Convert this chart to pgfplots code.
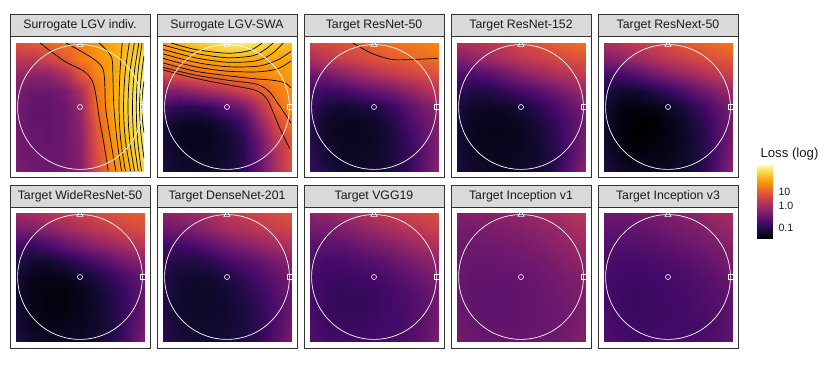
\documentclass[border=0pt]{standalone}
\usepackage{fontspec}
\setmainfont{Liberation Sans}
\usepackage{pgfplots}
\pgfplotsset{compat=1.18}

\definecolor{stripfill}{RGB}{217,217,217}
\definecolor{frameline}{RGB}{51,51,51}
\definecolor{labeltext}{RGB}{26,26,26}

\pgfplotsset{
  colormap={inferno}{rgb255=(0,0,4) rgb255=(22,11,57) rgb255=(66,10,104)
    rgb255=(106,23,110) rgb255=(147,38,103) rgb255=(188,55,84)
    rgb255=(221,81,58) rgb255=(243,120,25) rgb255=(252,165,10)
    rgb255=(246,215,70) rgb255=(252,255,164)},
  heat/.style={anchor=south west, width=128pt, height=128pt, scale only axis,
    xmin=-1, xmax=1, ymin=-1, ymax=1, hide axis, colormap name=inferno,
    point meta min=0, point meta max=1, clip mode=individual},
  field/.style={surf, shader=interp, mesh/cols=9, point meta=explicit},
  level/.style={black, line width=0.7pt, smooth, no markers},
}

% unit circle and the three reference points
\newcommand{\refmarks}{%
  \draw[white, line width=0.7pt] (axis cs:0,0) circle[radius=0.975];
  \addplot[only marks, white, mark=o, mark size=2.5pt, mark options={line width=0.6pt}] coordinates {(0,0)};
  \addplot[only marks, white, mark=triangle, mark size=3.6pt, mark options={line width=0.6pt}] coordinates {(0,0.975)};
  \addplot[only marks, white, mark=square, mark size=2.4pt, mark options={line width=0.6pt}] coordinates {(0.975,0)};
}
% strip + frame of one facet: x of left edge, y of strip top, title
\newcommand{\panel}[3]{%
  \draw[frameline, line width=0.8pt, fill=stripfill] (#1,#2) rectangle ++(140,-22);
  \draw[frameline, line width=0.8pt] (#1,#2-22) rectangle ++(140,-141);
  \node[font=\fontsize{12.3}{14}\selectfont, text=labeltext] at (#1+70,#2-11) {#3};
}

\begin{document}
\begin{tikzpicture}[x=1pt,y=1pt]
\useasboundingbox (0,0) rectangle (830,365);

\panel{10}{351}{Surrogate LGV indiv.}
\panel{157}{351}{Surrogate LGV-SWA}
\panel{304}{351}{Target ResNet-50}
\panel{451}{351}{Target ResNet-152}
\panel{598}{351}{Target ResNext-50}
\panel{10}{180}{Target WideResNet-50}
\panel{157}{180}{Target DenseNet-201}
\panel{304}{180}{Target VGG19}
\panel{451}{180}{Target Inception v1}
\panel{598}{180}{Target Inception v3}

% ---- Surrogate LGV indiv.
\begin{axis}[heat, at={(16pt,194pt)}]
\addplot[field] coordinates {
(-1,1)[.60] (-.75,1)[.62] (-.5,1)[.66] (-.25,1)[.70] (0,1)[.72] (.25,1)[.76] (.5,1)[.80] (.75,1)[.85] (1,1)[.88]
(-1,.75)[.50] (-.75,.75)[.50] (-.5,.75)[.55] (-.25,.75)[.62] (0,.75)[.70] (.25,.75)[.75] (.5,.75)[.80] (.75,.75)[.86] (1,.75)[.92]
(-1,.5)[.40] (-.75,.5)[.38] (-.5,.5)[.38] (-.25,.5)[.45] (0,.5)[.60] (.25,.5)[.72] (.5,.5)[.80] (.75,.5)[.88] (1,.5)[.95]
(-1,.25)[.33] (-.75,.25)[.30] (-.5,.25)[.30] (-.25,.25)[.33] (0,.25)[.45] (.25,.25)[.68] (.5,.25)[.80] (.75,.25)[.90] (1,.25)[.98]
(-1,0)[.32] (-.75,0)[.28] (-.5,0)[.28] (-.25,0)[.30] (0,0)[.40] (.25,0)[.66] (.5,0)[.80] (.75,0)[.90] (1,0)[1.0]
(-1,-.25)[.32] (-.75,-.25)[.28] (-.5,-.25)[.28] (-.25,-.25)[.30] (0,-.25)[.38] (.25,-.25)[.62] (.5,-.25)[.78] (.75,-.25)[.88] (1,-.25)[.97]
(-1,-.5)[.32] (-.75,-.5)[.30] (-.5,-.5)[.28] (-.25,-.5)[.30] (0,-.5)[.37] (.25,-.5)[.60] (.5,-.5)[.76] (.75,-.5)[.86] (1,-.5)[.94]
(-1,-.75)[.33] (-.75,-.75)[.30] (-.5,-.75)[.30] (-.25,-.75)[.30] (0,-.75)[.36] (.25,-.75)[.58] (.5,-.75)[.74] (.75,-.75)[.84] (1,-.75)[.92]
(-1,-1)[.34] (-.75,-1)[.32] (-.5,-1)[.30] (-.25,-1)[.32] (0,-1)[.36] (.25,-1)[.56] (.5,-1)[.72] (.75,-1)[.82] (1,-1)[.90]
};
\addplot[level] coordinates {(-.625,1) (-.25,.72) (.06,.56) (.19,.41) (.245,.2) (.3,-.17) (.375,-.58) (.44,-1)};
\addplot[level] coordinates {(-.22,1) (.01,.875) (.22,.745) (.35,.615) (.385,.41) (.40,-.01) (.48,-.53) (.56,-1)};
\addplot[level] coordinates {(.3,1) (.45,.85) (.505,.72) (.516,.41) (.53,-.01) (.58,-.53) (.65,-1)};
\addplot[level] coordinates {(.66,1) (.628,.6) (.615,.3) (.61,0) (.619,-.3) (.646,-.6) (.71,-1)};
\addplot[level] coordinates {(.77,1) (.712,.6) (.689,.3) (.68,0) (.69,-.3) (.72,-.6) (.79,-1)};
\addplot[level] coordinates {(.85,1) (.786,.6) (.759,.3) (.75,0) (.759,-.3) (.786,-.6) (.85,-1)};
\addplot[level] coordinates {(.92,1) (.856,.6) (.829,.3) (.82,0) (.828,-.3) (.852,-.6) (.91,-1)};
\addplot[level] coordinates {(.97,1) (.912,.6) (.888,.3) (.88,0) (.887,-.3) (.909,-.6) (.96,-1)};
\addplot[level] coordinates {(1,.8) (.96,.5) (.94,.25) (.93,0) (.94,-.25) (.96,-.5) (1,-.8)};
\addplot[level] coordinates {(1,.4) (.975,.2) (.97,0) (.975,-.2) (1,-.4)};
\refmarks
\end{axis}

% ---- Surrogate LGV-SWA
\begin{axis}[heat, at={(163pt,194pt)}]
\addplot[field] coordinates {
(-1,1)[.78] (-.75,1)[.82] (-.5,1)[.86] (-.25,1)[.90] (0,1)[.94] (.25,1)[.95] (.5,1)[.92] (.75,1)[.88] (1,1)[.85]
(-1,.75)[.72] (-.75,.75)[.75] (-.5,.75)[.78] (-.25,.75)[.80] (0,.75)[.82] (.25,.75)[.82] (.5,.75)[.80] (.75,.75)[.80] (1,.75)[.80]
(-1,.5)[.55] (-.75,.5)[.60] (-.5,.5)[.65] (-.25,.5)[.68] (0,.5)[.70] (.25,.5)[.72] (.5,.5)[.74] (.75,.5)[.76] (1,.5)[.78]
(-1,.25)[.35] (-.75,.25)[.35] (-.5,.25)[.40] (-.25,.25)[.45] (0,.25)[.50] (.25,.25)[.55] (.5,.25)[.62] (.75,.25)[.70] (1,.25)[.76]
(-1,0)[.20] (-.75,0)[.15] (-.5,0)[.15] (-.25,0)[.18] (0,0)[.25] (.25,0)[.33] (.5,0)[.48] (.75,0)[.65] (1,0)[.74]
(-1,-.25)[.12] (-.75,-.25)[.06] (-.5,-.25)[.05] (-.25,-.25)[.07] (0,-.25)[.12] (.25,-.25)[.20] (.5,-.25)[.38] (.75,-.25)[.56] (1,-.25)[.68]
(-1,-.5)[.10] (-.75,-.5)[.05] (-.5,-.5)[.04] (-.25,-.5)[.05] (0,-.5)[.08] (.25,-.5)[.15] (.5,-.5)[.30] (.75,-.5)[.50] (1,-.5)[.62]
(-1,-.75)[.10] (-.75,-.75)[.06] (-.5,-.75)[.05] (-.25,-.75)[.06] (0,-.75)[.08] (.25,-.75)[.14] (.5,-.75)[.28] (.75,-.75)[.45] (1,-.75)[.60]
(-1,-1)[.12] (-.75,-1)[.08] (-.5,-1)[.07] (-.25,-1)[.08] (0,-1)[.10] (.25,-1)[.15] (.5,-1)[.28] (.75,-1)[.45] (1,-1)[.58]
};
\addplot[level] coordinates {(-.87,1) (-.5,.9) (0,.84) (.35,.88) (.55,1)};
\addplot[level] coordinates {(-1,.97) (-.5,.84) (0,.77) (.4,.8) (.6,.9) (.72,1)};
\addplot[level] coordinates {(-1,.9) (-.5,.77) (0,.7) (.45,.72) (.7,.83) (.88,1)};
\addplot[level] coordinates {(-1,.83) (-.5,.7) (0,.63) (.5,.64) (.8,.74) (1,.87)};
\addplot[level] coordinates {(-1,.76) (-.5,.63) (0,.56) (.5,.55) (.8,.6) (1,.72)};
\addplot[level] coordinates {(-1,.69) (-.5,.56) (0,.49) (.45,.44) (.7,.42) (.9,.38) (1,.3)};
\addplot[level] coordinates {(-1,.62) (-.5,.5) (0,.42) (.45,.36) (.65,.25) (.8,.05) (1,-.25)};
\addplot[level] coordinates {(-1,.58) (-.5,.45) (0,.35) (.45,.26) (.62,.13) (.72,-.08) (.82,-.32) (.98,-.65)};
\refmarks
\end{axis}

% ---- Target ResNet-50
\begin{axis}[heat, at={(310pt,194pt)}]
\addplot[field] coordinates {
(-1,1)[.55] (-.75,1)[.58] (-.5,1)[.60] (-.25,1)[.63] (0,1)[.66] (.25,1)[.68] (.5,1)[.70] (.75,1)[.71] (1,1)[.73]
(-1,.75)[.45] (-.75,.75)[.50] (-.5,.75)[.53] (-.25,.75)[.56] (0,.75)[.60] (.25,.75)[.62] (.5,.75)[.64] (.75,.75)[.66] (1,.75)[.68]
(-1,.5)[.30] (-.75,.5)[.32] (-.5,.5)[.36] (-.25,.5)[.42] (0,.5)[.46] (.25,.5)[.50] (.5,.5)[.54] (.75,.5)[.57] (1,.5)[.60]
(-1,.25)[.20] (-.75,.25)[.18] (-.5,.25)[.20] (-.25,.25)[.24] (0,.25)[.28] (.25,.25)[.32] (.5,.25)[.38] (.75,.25)[.44] (1,.25)[.50]
(-1,0)[.18] (-.75,0)[.10] (-.5,0)[.08] (-.25,0)[.10] (0,0)[.12] (.25,0)[.17] (.5,0)[.24] (.75,0)[.32] (1,0)[.40]
(-1,-.25)[.15] (-.75,-.25)[.07] (-.5,-.25)[.05] (-.25,-.25)[.05] (0,-.25)[.07] (.25,-.25)[.12] (.5,-.25)[.20] (.75,-.25)[.28] (1,-.25)[.36]
(-1,-.5)[.14] (-.75,-.5)[.07] (-.5,-.5)[.05] (-.25,-.5)[.05] (0,-.5)[.06] (.25,-.5)[.10] (.5,-.5)[.17] (.75,-.5)[.26] (1,-.5)[.36]
(-1,-.75)[.15] (-.75,-.75)[.09] (-.5,-.75)[.06] (-.25,-.75)[.06] (0,-.75)[.07] (.25,-.75)[.10] (.5,-.75)[.16] (.75,-.75)[.25] (1,-.75)[.36]
(-1,-1)[.18] (-.75,-1)[.12] (-.5,-1)[.08] (-.25,-1)[.08] (0,-1)[.09] (.25,-1)[.11] (.5,-1)[.16] (.75,-1)[.26] (1,-1)[.38]
};
\addplot[level] coordinates {(-.33,1) (-.03,.836) (.28,.742) (.59,.742) (1,.76)};
\refmarks
\end{axis}

% ---- Target ResNet-152
\begin{axis}[heat, at={(457pt,194pt)}]
\addplot[field] coordinates {
(-1,1)[.45] (-.75,1)[.48] (-.5,1)[.50] (-.25,1)[.53] (0,1)[.57] (.25,1)[.60] (.5,1)[.63] (.75,1)[.66] (1,1)[.68]
(-1,.75)[.35] (-.75,.75)[.38] (-.5,.75)[.42] (-.25,.75)[.46] (0,.75)[.50] (.25,.75)[.53] (.5,.75)[.56] (.75,.75)[.58] (1,.75)[.60]
(-1,.5)[.22] (-.75,.5)[.22] (-.5,.5)[.25] (-.25,.5)[.30] (0,.5)[.36] (.25,.5)[.40] (.5,.5)[.45] (.75,.5)[.48] (1,.5)[.52]
(-1,.25)[.15] (-.75,.25)[.12] (-.5,.25)[.13] (-.25,.25)[.16] (0,.25)[.20] (.25,.25)[.25] (.5,.25)[.30] (.75,.25)[.36] (1,.25)[.42]
(-1,0)[.12] (-.75,0)[.07] (-.5,0)[.06] (-.25,0)[.07] (0,0)[.10] (.25,0)[.14] (.5,0)[.20] (.75,0)[.27] (1,0)[.34]
(-1,-.25)[.10] (-.75,-.25)[.05] (-.5,-.25)[.04] (-.25,-.25)[.04] (0,-.25)[.06] (.25,-.25)[.10] (.5,-.25)[.16] (.75,-.25)[.24] (1,-.25)[.32]
(-1,-.5)[.10] (-.75,-.5)[.05] (-.5,-.5)[.04] (-.25,-.5)[.04] (0,-.5)[.05] (.25,-.5)[.08] (.5,-.5)[.14] (.75,-.5)[.23] (1,-.5)[.33]
(-1,-.75)[.10] (-.75,-.75)[.06] (-.5,-.75)[.05] (-.25,-.75)[.05] (0,-.75)[.06] (.25,-.75)[.08] (.5,-.75)[.13] (.75,-.75)[.23] (1,-.75)[.35]
(-1,-1)[.12] (-.75,-1)[.08] (-.5,-1)[.06] (-.25,-1)[.06] (0,-1)[.07] (.25,-1)[.09] (.5,-1)[.14] (.75,-1)[.25] (1,-1)[.38]
};
\refmarks
\end{axis}

% ---- Target ResNext-50
\begin{axis}[heat, at={(604pt,194pt)}]
\addplot[field] coordinates {
(-1,1)[.45] (-.75,1)[.48] (-.5,1)[.52] (-.25,1)[.55] (0,1)[.58] (.25,1)[.62] (.5,1)[.65] (.75,1)[.67] (1,1)[.69]
(-1,.75)[.35] (-.75,.75)[.38] (-.5,.75)[.42] (-.25,.75)[.46] (0,.75)[.50] (.25,.75)[.54] (.5,.75)[.57] (.75,.75)[.60] (1,.75)[.62]
(-1,.5)[.20] (-.75,.5)[.20] (-.5,.5)[.24] (-.25,.5)[.30] (0,.5)[.36] (.25,.5)[.40] (.5,.5)[.45] (.75,.5)[.50] (1,.5)[.54]
(-1,.25)[.12] (-.75,.25)[.08] (-.5,.25)[.08] (-.25,.25)[.12] (0,.25)[.17] (.25,.25)[.23] (.5,.25)[.30] (.75,.25)[.36] (1,.25)[.42]
(-1,0)[.10] (-.75,0)[.03] (-.5,0)[.02] (-.25,0)[.03] (0,0)[.06] (.25,0)[.11] (.5,0)[.18] (.75,0)[.26] (1,0)[.34]
(-1,-.25)[.08] (-.75,-.25)[.02] (-.5,-.25)[.00] (-.25,-.25)[.00] (0,-.25)[.03] (.25,-.25)[.07] (.5,-.25)[.14] (.75,-.25)[.23] (1,-.25)[.32]
(-1,-.5)[.08] (-.75,-.5)[.02] (-.5,-.5)[.00] (-.25,-.5)[.01] (0,-.5)[.03] (.25,-.5)[.06] (.5,-.5)[.12] (.75,-.5)[.22] (1,-.5)[.33]
(-1,-.75)[.09] (-.75,-.75)[.04] (-.5,-.75)[.02] (-.25,-.75)[.03] (0,-.75)[.04] (.25,-.75)[.07] (.5,-.75)[.12] (.75,-.75)[.22] (1,-.75)[.35]
(-1,-1)[.12] (-.75,-1)[.07] (-.5,-1)[.05] (-.25,-1)[.05] (0,-1)[.06] (.25,-1)[.08] (.5,-1)[.13] (.75,-1)[.24] (1,-1)[.38]
};
\refmarks
\end{axis}

% ---- Target WideResNet-50
\begin{axis}[heat, at={(16pt,24pt)}]
\addplot[field] coordinates {
(-1,1)[.42] (-.75,1)[.45] (-.5,1)[.48] (-.25,1)[.51] (0,1)[.54] (.25,1)[.57] (.5,1)[.60] (.75,1)[.62] (1,1)[.64]
(-1,.75)[.33] (-.75,.75)[.35] (-.5,.75)[.38] (-.25,.75)[.42] (0,.75)[.46] (.25,.75)[.50] (.5,.75)[.53] (.75,.75)[.56] (1,.75)[.58]
(-1,.5)[.20] (-.75,.5)[.18] (-.5,.5)[.22] (-.25,.5)[.28] (0,.5)[.33] (.25,.5)[.38] (.5,.5)[.42] (.75,.5)[.46] (1,.5)[.50]
(-1,.25)[.13] (-.75,.25)[.08] (-.5,.25)[.08] (-.25,.25)[.12] (0,.25)[.17] (.25,.25)[.22] (.5,.25)[.28] (.75,.25)[.33] (1,.25)[.38]
(-1,0)[.10] (-.75,0)[.04] (-.5,0)[.03] (-.25,0)[.04] (0,0)[.07] (.25,0)[.11] (.5,0)[.17] (.75,0)[.23] (1,0)[.30]
(-1,-.25)[.09] (-.75,-.25)[.03] (-.5,-.25)[.02] (-.25,-.25)[.02] (0,-.25)[.04] (.25,-.25)[.08] (.5,-.25)[.13] (.75,-.25)[.20] (1,-.25)[.28]
(-1,-.5)[.09] (-.75,-.5)[.04] (-.5,-.5)[.02] (-.25,-.5)[.02] (0,-.5)[.04] (.25,-.5)[.07] (.5,-.5)[.12] (.75,-.5)[.20] (1,-.5)[.30]
(-1,-.75)[.10] (-.75,-.75)[.05] (-.5,-.75)[.04] (-.25,-.75)[.04] (0,-.75)[.05] (.25,-.75)[.07] (.5,-.75)[.12] (.75,-.75)[.21] (1,-.75)[.32]
(-1,-1)[.13] (-.75,-1)[.08] (-.5,-1)[.06] (-.25,-1)[.06] (0,-1)[.07] (.25,-1)[.09] (.5,-1)[.13] (.75,-1)[.23] (1,-1)[.35]
};
\refmarks
\end{axis}

% ---- Target DenseNet-201
\begin{axis}[heat, at={(163pt,24pt)}]
\addplot[field] coordinates {
(-1,1)[.38] (-.75,1)[.40] (-.5,1)[.43] (-.25,1)[.46] (0,1)[.50] (.25,1)[.53] (.5,1)[.56] (.75,1)[.58] (1,1)[.60]
(-1,.75)[.30] (-.75,.75)[.32] (-.5,.75)[.35] (-.25,.75)[.40] (0,.75)[.44] (.25,.75)[.47] (.5,.75)[.50] (.75,.75)[.53] (1,.75)[.55]
(-1,.5)[.20] (-.75,.5)[.20] (-.5,.5)[.22] (-.25,.5)[.27] (0,.5)[.32] (.25,.5)[.36] (.5,.5)[.40] (.75,.5)[.44] (1,.5)[.47]
(-1,.25)[.15] (-.75,.25)[.12] (-.5,.25)[.12] (-.25,.25)[.15] (0,.25)[.20] (.25,.25)[.24] (.5,.25)[.28] (.75,.25)[.33] (1,.25)[.38]
(-1,0)[.14] (-.75,0)[.09] (-.5,0)[.08] (-.25,0)[.09] (0,0)[.12] (.25,0)[.16] (.5,0)[.22] (.75,0)[.27] (1,0)[.32]
(-1,-.25)[.13] (-.75,-.25)[.08] (-.5,-.25)[.07] (-.25,-.25)[.07] (0,-.25)[.09] (.25,-.25)[.13] (.5,-.25)[.18] (.75,-.25)[.24] (1,-.25)[.30]
(-1,-.5)[.13] (-.75,-.5)[.08] (-.5,-.5)[.07] (-.25,-.5)[.07] (0,-.5)[.08] (.25,-.5)[.11] (.5,-.5)[.16] (.75,-.5)[.23] (1,-.5)[.30]
(-1,-.75)[.13] (-.75,-.75)[.09] (-.5,-.75)[.08] (-.25,-.75)[.08] (0,-.75)[.09] (.25,-.75)[.11] (.5,-.75)[.15] (.75,-.75)[.23] (1,-.75)[.31]
(-1,-1)[.15] (-.75,-1)[.11] (-.5,-1)[.09] (-.25,-1)[.09] (0,-1)[.10] (.25,-1)[.12] (.5,-1)[.16] (.75,-1)[.24] (1,-1)[.33]
};
\refmarks
\end{axis}

% ---- Target VGG19
\begin{axis}[heat, at={(310pt,24pt)}]
\addplot[field] coordinates {
(-1,1)[.38] (-.75,1)[.40] (-.5,1)[.43] (-.25,1)[.46] (0,1)[.49] (.25,1)[.52] (.5,1)[.55] (.75,1)[.57] (1,1)[.59]
(-1,.75)[.32] (-.75,.75)[.33] (-.5,.75)[.35] (-.25,.75)[.38] (0,.75)[.42] (.25,.75)[.45] (.5,.75)[.48] (.75,.75)[.51] (1,.75)[.54]
(-1,.5)[.26] (-.75,.5)[.26] (-.5,.5)[.27] (-.25,.5)[.30] (0,.5)[.33] (.25,.5)[.36] (.5,.5)[.40] (.75,.5)[.44] (1,.5)[.47]
(-1,.25)[.23] (-.75,.25)[.21] (-.5,.25)[.21] (-.25,.25)[.23] (0,.25)[.25] (.25,.25)[.28] (.5,.25)[.32] (.75,.25)[.36] (1,.25)[.40]
(-1,0)[.21] (-.75,0)[.19] (-.5,0)[.18] (-.25,0)[.19] (0,0)[.21] (.25,0)[.23] (.5,0)[.26] (.75,0)[.30] (1,0)[.34]
(-1,-.25)[.21] (-.75,-.25)[.18] (-.5,-.25)[.17] (-.25,-.25)[.17] (0,-.25)[.18] (.25,-.25)[.20] (.5,-.25)[.23] (.75,-.25)[.27] (1,-.25)[.32]
(-1,-.5)[.21] (-.75,-.5)[.18] (-.5,-.5)[.17] (-.25,-.5)[.17] (0,-.5)[.18] (.25,-.5)[.20] (.5,-.5)[.22] (.75,-.5)[.26] (1,-.5)[.32]
(-1,-.75)[.22] (-.75,-.75)[.19] (-.5,-.75)[.18] (-.25,-.75)[.18] (0,-.75)[.19] (.25,-.75)[.20] (.5,-.75)[.22] (.75,-.75)[.26] (1,-.75)[.33]
(-1,-1)[.24] (-.75,-1)[.21] (-.5,-1)[.20] (-.25,-1)[.20] (0,-1)[.20] (.25,-1)[.21] (.5,-1)[.23] (.75,-1)[.27] (1,-1)[.35]
};
\refmarks
\end{axis}

% ---- Target Inception v1
\begin{axis}[heat, at={(457pt,24pt)}]
\addplot[field] coordinates {
(-1,1)[.35] (-.75,1)[.36] (-.5,1)[.37] (-.25,1)[.38] (0,1)[.40] (.25,1)[.42] (.5,1)[.44] (.75,1)[.47] (1,1)[.50]
(-1,.75)[.33] (-.75,.75)[.33] (-.5,.75)[.34] (-.25,.75)[.35] (0,.75)[.36] (.25,.75)[.38] (.5,.75)[.40] (.75,.75)[.43] (1,.75)[.46]
(-1,.5)[.31] (-.75,.5)[.31] (-.5,.5)[.31] (-.25,.5)[.32] (0,.5)[.33] (.25,.5)[.35] (.5,.5)[.37] (.75,.5)[.40] (1,.5)[.42]
(-1,.25)[.30] (-.75,.25)[.29] (-.5,.25)[.29] (-.25,.25)[.30] (0,.25)[.31] (.25,.25)[.32] (.5,.25)[.34] (.75,.25)[.37] (1,.25)[.39]
(-1,0)[.30] (-.75,0)[.28] (-.5,0)[.28] (-.25,0)[.28] (0,0)[.29] (.25,0)[.30] (.5,0)[.32] (.75,0)[.34] (1,0)[.36]
(-1,-.25)[.30] (-.75,-.25)[.28] (-.5,-.25)[.27] (-.25,-.25)[.27] (0,-.25)[.28] (.25,-.25)[.29] (.5,-.25)[.31] (.75,-.25)[.33] (1,-.25)[.35]
(-1,-.5)[.30] (-.75,-.5)[.28] (-.5,-.5)[.27] (-.25,-.5)[.27] (0,-.5)[.28] (.25,-.5)[.29] (.5,-.5)[.30] (.75,-.5)[.32] (1,-.5)[.35]
(-1,-.75)[.31] (-.75,-.75)[.29] (-.5,-.75)[.28] (-.25,-.75)[.28] (0,-.75)[.28] (.25,-.75)[.29] (.5,-.75)[.30] (.75,-.75)[.32] (1,-.75)[.35]
(-1,-1)[.32] (-.75,-1)[.30] (-.5,-1)[.29] (-.25,-1)[.29] (0,-1)[.29] (.25,-1)[.30] (.5,-1)[.31] (.75,-1)[.33] (1,-1)[.36]
};
\refmarks
\end{axis}

% ---- Target Inception v3
\begin{axis}[heat, at={(604pt,24pt)}]
\addplot[field] coordinates {
(-1,1)[.30] (-.75,1)[.31] (-.5,1)[.32] (-.25,1)[.33] (0,1)[.35] (.25,1)[.37] (.5,1)[.39] (.75,1)[.42] (1,1)[.45]
(-1,.75)[.27] (-.75,.75)[.27] (-.5,.75)[.28] (-.25,.75)[.29] (0,.75)[.31] (.25,.75)[.33] (.5,.75)[.35] (.75,.75)[.38] (1,.75)[.41]
(-1,.5)[.24] (-.75,.5)[.24] (-.5,.5)[.24] (-.25,.5)[.25] (0,.5)[.27] (.25,.5)[.29] (.5,.5)[.31] (.75,.5)[.34] (1,.5)[.37]
(-1,.25)[.22] (-.75,.25)[.21] (-.5,.25)[.21] (-.25,.25)[.22] (0,.25)[.23] (.25,.25)[.25] (.5,.25)[.27] (.75,.25)[.30] (1,.25)[.33]
(-1,0)[.21] (-.75,0)[.20] (-.5,0)[.19] (-.25,0)[.20] (0,0)[.21] (.25,0)[.22] (.5,0)[.24] (.75,0)[.27] (1,0)[.30]
(-1,-.25)[.21] (-.75,-.25)[.19] (-.5,-.25)[.18] (-.25,-.25)[.19] (0,-.25)[.20] (.25,-.25)[.21] (.5,-.25)[.23] (.75,-.25)[.25] (1,-.25)[.28]
(-1,-.5)[.21] (-.75,-.5)[.19] (-.5,-.5)[.18] (-.25,-.5)[.19] (0,-.5)[.19] (.25,-.5)[.20] (.5,-.5)[.22] (.75,-.5)[.24] (1,-.5)[.27]
(-1,-.75)[.22] (-.75,-.75)[.20] (-.5,-.75)[.19] (-.25,-.75)[.19] (0,-.75)[.20] (.25,-.75)[.20] (.5,-.75)[.21] (.75,-.75)[.23] (1,-.75)[.27]
(-1,-1)[.23] (-.75,-1)[.21] (-.5,-1)[.20] (-.25,-1)[.20] (0,-1)[.20] (.25,-1)[.21] (.5,-1)[.22] (.75,-1)[.24] (1,-1)[.28]
};
\refmarks
\end{axis}

% ---- colour bar
\node[anchor=base west, font=\fontsize{13.2}{15}\selectfont, text=labeltext] at (757,207.5) {Loss (log)};
\begin{axis}[anchor=south west, at={(757pt,127pt)}, width=15pt, height=73pt, scale only axis,
  xmin=0, xmax=1, ymin=0, ymax=1, colormap name=inferno, point meta min=0, point meta max=1,
  axis line style={draw=none}, xtick=\empty,
  ytick={0.137,0.438,0.63}, yticklabels={0.1,1.0,10}, yticklabel pos=right,
  tick align=inside, major tick length=3pt, tick style={white, line width=0.5pt},
  yticklabel style={font=\fontsize{10.6}{12}\selectfont, text=labeltext, xshift=3pt}]
\addplot[surf, shader=interp, mesh/cols=2, point meta=y] coordinates {(0,0) (1,0) (0,1) (1,1)};
\end{axis}
\end{tikzpicture}
\end{document}
